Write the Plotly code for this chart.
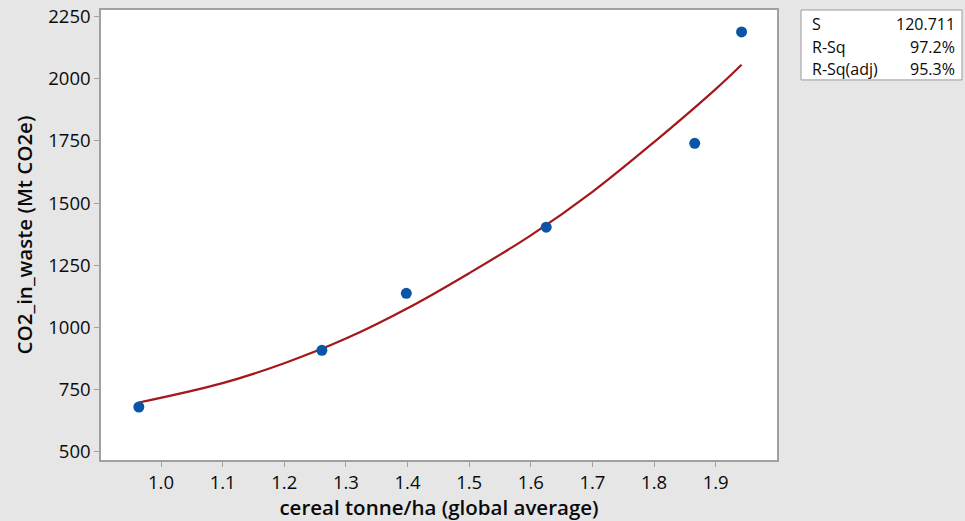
import plotly.graph_objects as go

cereal_yield = [0.964, 1.261, 1.398, 1.625, 1.866, 1.942]
co2_waste = [680, 908, 1137, 1403, 1740, 2188]

# Fitted quadratic line
fit_x = [0.964, 1.1, 1.2, 1.3, 1.4, 1.5, 1.6, 1.7, 1.8, 1.9, 1.942]
fit_y = [698, 776, 856, 955, 1077, 1218, 1370, 1545, 1745, 1958, 2056]

x_ticks = [1.0, 1.1, 1.2, 1.3, 1.4, 1.5, 1.6, 1.7, 1.8, 1.9]
y_ticks = [500, 750, 1000, 1250, 1500, 1750, 2000, 2250]

stat_labels = ["S", "R-Sq", "R-Sq(adj)"]
stat_values = ["120.711", "97.2%", "95.3%"]

FONT = "Open Sans, Noto Sans, DejaVu Sans, sans-serif"
AX = "#a0a0a0"
BG = "#e6e6e6"
TXT = "#0a0a0a"

fig = go.Figure()
fig.add_trace(go.Scatter(x=fit_x, y=fit_y, mode="lines", line=dict(color="#a3181b", width=2.2, shape="spline"),
                         showlegend=False, hoverinfo="skip"))
fig.add_trace(go.Scatter(x=cereal_yield, y=co2_waste, mode="markers",
                         marker=dict(color="#0a55a6", size=11), showlegend=False))

W, H = 965, 521
L, R, T, B = 101, 777, 9.5, 460
pw, ph = R - L, B - T

def px2x(px):
    return (px - L) / pw

def py2y(py):
    return (B - py) / ph

fig.update_layout(
    width=W, height=H,
    margin=dict(l=L, r=W - R, t=T, b=H - B, autoexpand=False),
    paper_bgcolor=BG, plot_bgcolor="white",
    font=dict(family=FONT, color=TXT, size=18),
    xaxis=dict(range=[0.9026, 1.9995], tickvals=x_ticks, ticktext=[f"{v:.1f}" for v in x_ticks],
               showgrid=False, zeroline=False, showline=True, linecolor=AX, linewidth=1.5, mirror=True,
               ticks="outside", ticklen=5, tickcolor=AX, tickwidth=1,
               tickfont=dict(size=18.5, color=TXT),
               title=dict(text="cereal tonne/ha (global average)", font=dict(size=20.5, weight=600, color=TXT),
                          standoff=8)),
    yaxis=dict(range=[467, 2276], tickvals=y_ticks,
               showgrid=False, zeroline=False, showline=True, linecolor=AX, linewidth=1.5, mirror=True,
               ticks="outside", ticklen=5, tickcolor=AX, tickwidth=1,
               tickfont=dict(size=18.5, color=TXT),
               title=dict(text="CO2_in_waste (Mt CO2e)", font=dict(size=20.5, weight=600, color=TXT),
                          standoff=10)),
)

# Stats box
fig.add_shape(type="rect", xref="paper", yref="paper",
              x0=px2x(801), x1=px2x(962), y0=py2y(79.5), y1=py2y(9.5),
              line=dict(color="#9a9a9a", width=1), fillcolor="white", layer="above")
row_y = [24, 46.5, 68.5]
for lab, val, ry in zip(stat_labels, stat_values, row_y):
    fig.add_annotation(xref="paper", yref="paper", x=px2x(810), y=py2y(ry), text=lab, showarrow=False,
                       xanchor="left", yanchor="middle", font=dict(size=16, color=TXT, weight=500))
    fig.add_annotation(xref="paper", yref="paper", x=px2x(957), y=py2y(ry), text=val, showarrow=False,
                       xanchor="right", yanchor="middle", font=dict(size=16, color=TXT, weight=500))

fig.write_html(
    "out.html",
    config={"displayModeBar": False},
    post_script="document.body.style.margin='0';document.body.style.padding='0';"
                "document.body.style.background='" + BG + "';document.body.style.overflow='hidden';",
)
